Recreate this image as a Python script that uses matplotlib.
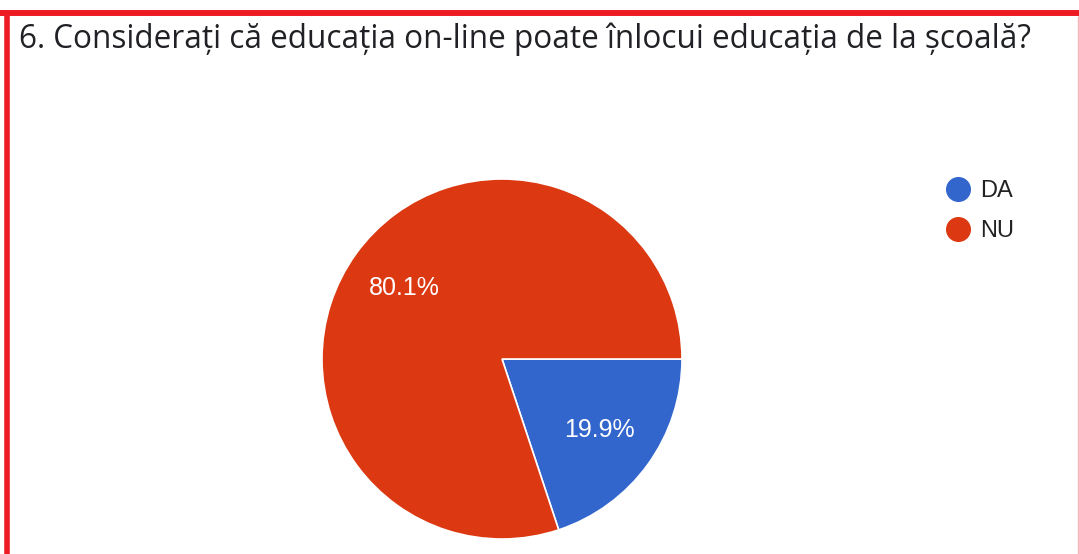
import matplotlib.pyplot as plt
from matplotlib.lines import Line2D

# date din grafic
etichete = ["DA", "NU"]
procente = [19.9, 80.1]
culori = ["#3366CC", "#DC3912"]
titlu = "6. Considerați că educația on-line poate înlocui educația de la școală?"

W, H = 1079, 554
fig = plt.figure(figsize=(W / 100, H / 100), dpi=100)

# pie: centru ~ (502, 359) px, raza ~180 px
cx, cy, r = 502, 359, 180
ax = fig.add_axes([(cx - r) / W, (H - cy - r) / H, 2 * r / W, 2 * r / H])
wedges, texts, autotexts = ax.pie(
    procente, colors=culori, startangle=0, counterclock=False,
    autopct="%1.1f%%", pctdistance=0.67,
    wedgeprops=dict(edgecolor="white", linewidth=1.2),
    textprops=dict(color="white", fontsize=18, family=["Liberation Sans", "DejaVu Sans"]))
ax.set_xlim(-1, 1)
ax.set_ylim(-1, 1)

# titlu
fig.text(19 / W, 1 - 48 / H, titlu, fontsize=22.7, color="#202124",
         family=["Open Sans", "DejaVu Sans"], ha="left", va="baseline")

# legenda
handles = [Line2D([], [], marker="o", linestyle="none", markersize=17,
                  markerfacecolor=c, markeredgecolor=c) for c in culori]
fig.legend(handles, etichete, loc="upper left", bbox_to_anchor=(949 / W, 1 - 180 / H),
           frameon=False, handlelength=0.8, handletextpad=0.5, labelspacing=0.78,
           prop=dict(family=["Liberation Sans", "DejaVu Sans"], size=17),
           labelcolor="#222222", borderpad=0, borderaxespad=0)

# chenar rosu
fig.add_artist(Line2D([0, 1], [1 - 13 / H, 1 - 13 / H], transform=fig.transFigure,
                      color="#ED1C24", linewidth=4.3, solid_capstyle="butt"))
fig.add_artist(Line2D([6.5 / W, 6.5 / W], [0, 1 - 11 / H], transform=fig.transFigure,
                      color="#ED1C24", linewidth=4.0, solid_capstyle="butt"))
fig.add_artist(Line2D([1077.5 / W, 1077.5 / W], [0, 1 - 16 / H], transform=fig.transFigure,
                      color="#F7B6B8", linewidth=1.0, solid_capstyle="butt"))

fig.savefig("out.png", dpi=100)
